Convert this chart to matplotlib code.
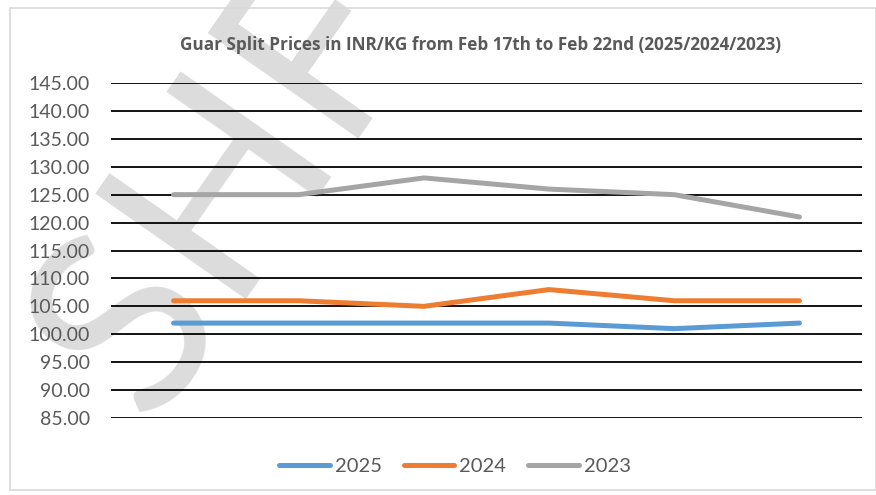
from matplotlib import pyplot as plt
from matplotlib.patches import Rectangle

plt.rcParams['font.family'] = ['Lato', 'DejaVu Sans']

days = ['Feb 17', 'Feb 18', 'Feb 19', 'Feb 20', 'Feb 21', 'Feb 22']
prices_2025 = [102, 102, 102, 102, 101, 102]
prices_2024 = [106, 106, 105, 108, 106, 106]
prices_2023 = [125, 125, 128, 126, 125, 121]
y_ticks = [85, 90, 95, 100, 105, 110, 115, 120, 125, 130, 135, 140, 145]

fig = plt.figure(figsize=(8.76, 4.95), dpi=100)

# Watermark and chart border.
fig.text(-5 / 876, 1 - 450 / 495, 'SHF', fontsize=185, color='#dcdcdc', rotation=55,
         ha='left', va='bottom', zorder=-5)
fig.patches.append(Rectangle((10 / 876, 5 / 495), 866 / 876, 482 / 495,
                             transform=fig.transFigure, fill=False,
                             edgecolor='#d9d9d9', linewidth=1.2))

ax = fig.add_axes([111 / 876, 1 - 418 / 495, 751 / 876, 335 / 495])
ax.patch.set_alpha(0)

x = range(len(days))
for vals, col, lab in [(prices_2025, '#5B9BD5', '2025'),
                       (prices_2024, '#ED7D31', '2024'),
                       (prices_2023, '#A5A5A5', '2023')]:
    ax.plot(x, vals, color=col, lw=3.6, solid_capstyle='round',
            solid_joinstyle='round', label=lab, zorder=3)

ax.set_xlim(-0.5, 5.5)
ax.set_ylim(85, 145)
ax.set_yticks(y_ticks)
ax.set_yticklabels(['%.2f' % v for v in y_ticks])
ax.set_xticks([])
ax.grid(axis='y', color='black', lw=1.3, zorder=1)
for s in ax.spines.values():
    s.set_visible(False)
ax.tick_params(axis='y', length=0, pad=15, labelsize=14, labelcolor='#595959')

fig.text(480 / 876, 1 - 45 / 495, 'Guar Split Prices in INR/KG from Feb 17th to Feb 22nd (2025/2024/2023)',
         ha='center', va='center', fontsize=12.3, fontweight='bold', color='#595959',
         family='Open Sans')

ax.legend(loc='center', bbox_to_anchor=(455 / 876, 1 - 466 / 495),
          bbox_transform=fig.transFigure, ncol=3, frameon=False,
          fontsize=14.5, labelcolor='#595959', handlelength=2.5,
          handletextpad=0.25, columnspacing=1.1)

fig.savefig('out.png', dpi=100)
